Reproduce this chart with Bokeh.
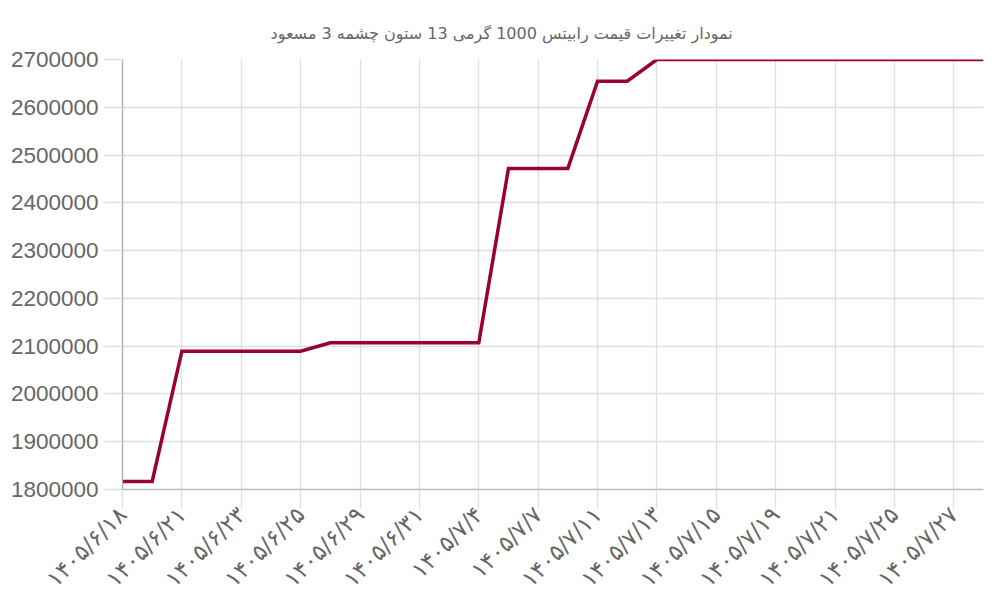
import math
from bokeh.plotting import figure
from bokeh.models import FixedTicker, BasicTickFormatter, Range1d, Title
from bokeh.embed import file_html
from bokeh.resources import INLINE

title_text = "نمودار تغییرات قیمت رابیتس 1000 گرمی 13 ستون چشمه 3 مسعود"

dates = [
    "۱۴۰۵/۶/۱۸", "۱۴۰۵/۶/۲۰", "۱۴۰۵/۶/۲۱", "۱۴۰۵/۶/۲۲", "۱۴۰۵/۶/۲۳",
    "۱۴۰۵/۶/۲۴", "۱۴۰۵/۶/۲۵", "۱۴۰۵/۶/۲۸", "۱۴۰۵/۶/۲۹", "۱۴۰۵/۶/۳۰",
    "۱۴۰۵/۶/۳۱", "۱۴۰۵/۷/۳", "۱۴۰۵/۷/۴", "۱۴۰۵/۷/۵", "۱۴۰۵/۷/۷",
    "۱۴۰۵/۷/۸", "۱۴۰۵/۷/۱۱", "۱۴۰۵/۷/۱۲", "۱۴۰۵/۷/۱۳", "۱۴۰۵/۷/۱۴",
    "۱۴۰۵/۷/۱۵", "۱۴۰۵/۷/۱۸", "۱۴۰۵/۷/۱۹", "۱۴۰۵/۷/۲۰", "۱۴۰۵/۷/۲۱",
    "۱۴۰۵/۷/۲۲", "۱۴۰۵/۷/۲۵", "۱۴۰۵/۷/۲۶", "۱۴۰۵/۷/۲۷", "۱۴۰۵/۷/۲۸",
]

prices = [
    1817000, 1817000, 2089500, 2089500, 2089500,
    2089500, 2089500, 2107000, 2107000, 2107000,
    2107000, 2107000, 2107000, 2472000, 2472000,
    2472000, 2654600, 2654600, 2700000, 2700000,
    2700000, 2700000, 2700000, 2700000, 2700000,
    2700000, 2700000, 2700000, 2700000, 2700000,
]

y_ticks = [1800000, 1900000, 2000000, 2100000, 2200000, 2300000, 2400000, 2500000, 2600000, 2700000]

xs = list(range(len(dates)))
label_idx = xs[::2]

p = figure(width=1000, height=600, output_backend="svg", toolbar_location=None,
           x_range=Range1d(0, len(dates) - 1), y_range=Range1d(y_ticks[0], y_ticks[-1]),
           frame_width=861, frame_height=430,
           min_border_left=122, min_border_right=17, min_border_top=59, min_border_bottom=111)

p.add_layout(Title(text=title_text, align="left", text_font="DejaVu Sans",
                   text_font_size="16px", text_font_style="normal", text_color="#666666",
                   standoff=34, offset=148), "above")

p.outline_line_color = None
p.background_fill_color = "white"
p.border_fill_color = "white"

p.line(xs, prices, line_color="#990033", line_width=3.5, line_join="miter")

grid_col = "#dedede"
p.xgrid.ticker = FixedTicker(ticks=label_idx)
p.ygrid.ticker = FixedTicker(ticks=y_ticks)
p.xgrid.grid_line_color = grid_col
p.ygrid.grid_line_color = grid_col
p.xgrid.grid_line_width = 1.3
p.ygrid.grid_line_width = 1.3

xa = p.xaxis[0]
xa.ticker = FixedTicker(ticks=label_idx)
xa.major_label_overrides = {i: dates[i] for i in label_idx}
xa.major_label_orientation = math.pi / 4
xa.major_label_text_font = "DejaVu Sans"
xa.major_label_text_font_size = "23px"
xa.major_label_text_color = "#666666"
xa.axis_line_color = "#bbbbbb"
xa.axis_line_width = 1.3
xa.major_tick_in = 0
xa.major_tick_out = 19
xa.major_tick_line_color = grid_col
xa.major_tick_line_width = 1.3
xa.minor_tick_line_color = None
xa.major_label_standoff = 2

ya = p.yaxis[0]
ya.ticker = FixedTicker(ticks=y_ticks)
ya.formatter = BasicTickFormatter(use_scientific=False)
ya.major_label_text_font = "Liberation Sans"
ya.major_label_text_font_size = "22.5px"
ya.major_label_text_color = "#666666"
ya.axis_line_color = "#aaaaaa"
ya.axis_line_width = 1.3
ya.major_tick_in = 0
ya.major_tick_out = 19
ya.major_tick_line_color = grid_col
ya.major_tick_line_width = 1.3
ya.minor_tick_line_color = None
ya.major_label_standoff = 5

open("out.html", "w").write(file_html(p, INLINE))
